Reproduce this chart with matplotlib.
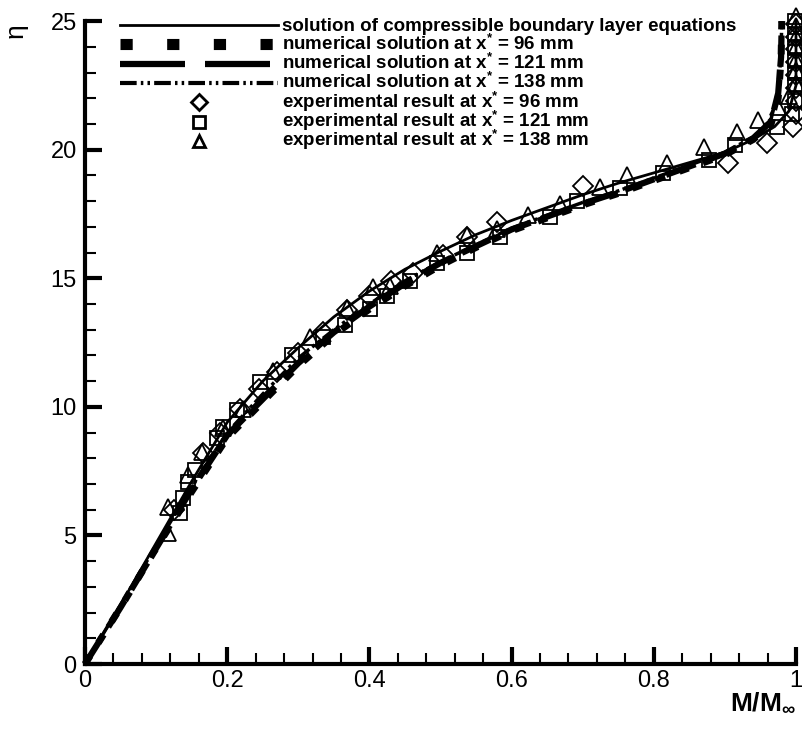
import matplotlib
matplotlib.use('Agg')
import matplotlib.pyplot as plt
from matplotlib.lines import Line2D

plt.rcParams['font.family'] = ['Liberation Sans', 'DejaVu Sans']
plt.rcParams['mathtext.default'] = 'regular'

# theory: compressible boundary layer solution
M_theory = [0, .05, .1, .15, .2, .25, .3, .35, .4, .45, .5, .55, .6, .65, .7, .75, .8, .85, .9, .94, .97, .99, 1.0, 1.0]
eta_theory = [0, 2.3, 4.7, 7.1, 9.4, 11.0, 12.3, 13.5, 14.5, 15.35, 16.05, 16.7, 17.25, 17.75, 18.25, 18.7,
              19.1, 19.5, 19.9, 20.4, 20.9, 21.5, 22.5, 25]

# numerical solutions
M_num = [0, .05, .1, .15, .2, .25, .3, .35, .4, .45, .5, .55, .6, .65, .7, .75, .8, .85, .9, .94, .965, .975, .979, .98]
eta_num96 = [0, 2.2, 4.5, 6.7, 8.8, 10.2, 11.6, 12.8, 13.8, 14.7, 15.5, 16.2, 16.85, 17.35, 17.85, 18.3,
             18.8, 19.3, 19.8, 20.4, 21.0, 22.0, 23.5, 25]
eta_num121 = [0, 2.2, 4.5, 6.8, 8.9, 10.3, 11.7, 12.9, 13.9, 14.8, 15.6, 16.25, 16.9, 17.4, 17.9, 18.35,
              18.85, 19.35, 19.85, 20.45, 21.1, 22.2, 23.6, 25]
eta_num138 = [0, 2.3, 4.6, 6.9, 9.0, 10.5, 11.9, 13.0, 14.0, 14.9, 15.65, 16.3, 16.95, 17.45, 17.95, 18.4,
              18.9, 19.4, 19.9, 20.5, 21.2, 22.3, 23.7, 25]

# experiments
M_exp96 = [0.125, 0.166, 0.19, 0.218, 0.245, 0.27, 0.30, 0.335, 0.368, 0.40, 0.43, 0.461, 0.504, 0.537,
           0.579, 0.70, 0.904, 0.959, 0.996, 1.0, 1.0, 1.0, 1.0, 1.0, 1.0, 1.0, 1.0]
eta_exp96 = [6.0, 8.2, 9.0, 9.9, 10.7, 11.35, 12.1, 12.9, 13.75, 14.3, 14.9, 15.2, 15.9, 16.6,
             17.2, 18.6, 19.5, 20.25, 20.9, 21.4, 21.9, 22.4, 22.9, 23.4, 23.9, 24.4, 24.9]

M_exp121 = [0.134, 0.138, 0.145, 0.155, 0.186, 0.194, 0.214, 0.246, 0.291, 0.335, 0.366, 0.401, 0.425,
            0.457, 0.495, 0.537, 0.584, 0.654, 0.692, 0.752, 0.813, 0.877, 0.914, 0.973, 0.995,
            0.998, 0.998, 0.998, 0.998, 0.998, 0.998, 0.998]
eta_exp121 = [5.87, 6.45, 7.08, 7.54, 8.8, 9.2, 9.88, 10.96, 12.0, 12.7, 13.2, 13.8, 14.3,
              14.9, 15.6, 16.0, 16.6, 17.4, 18.0, 18.5, 19.1, 19.6, 20.2, 20.9, 21.4,
              21.9, 22.5, 23.0, 23.5, 24.0, 24.5, 25.0]

M_exp138 = [0.117, 0.117, 0.145, 0.164, 0.194, 0.222, 0.264, 0.316, 0.368, 0.405, 0.429, 0.495, 0.537,
            0.579, 0.623, 0.668, 0.724, 0.762, 0.819, 0.870, 0.917, 0.947, 0.975, 0.99,
            1.0, 1.0, 1.0, 1.0, 1.0, 1.0, 1.0]
eta_exp138 = [5.1, 6.1, 7.35, 8.25, 9.17, 9.9, 11.4, 12.7, 13.85, 14.66, 14.7, 16.0, 16.7,
              16.9, 17.45, 17.9, 18.55, 19.0, 19.5, 20.1, 20.7, 21.15, 21.65, 22.1,
              22.6, 23.1, 23.5, 24.0, 24.4, 24.8, 25.2]

x_ticks = [0, 0.2, 0.4, 0.6, 0.8, 1.0]
x_ticklabels = ['0', '0.2', '0.4', '0.6', '0.8', '1']
y_ticks = [0, 5, 10, 15, 20, 25]
y_ticklabels = ['0', '5', '10', '15', '20', '25']

labels = ['solution of compressible boundary layer equations',
          'numerical solution at x$^{*}$ = 96 mm',
          'numerical solution at x$^{*}$ = 121 mm',
          'numerical solution at x$^{*}$ = 138 mm',
          'experimental result at x$^{*}$ = 96 mm',
          'experimental result at x$^{*}$ = 121 mm',
          'experimental result at x$^{*}$ = 138 mm']

W, H = 802, 730
fig = plt.figure(figsize=(W / 100, H / 100), dpi=100)
ax = fig.add_axes([0.106, 0.0904, 0.8865, 0.8806])

st96 = dict(color='k', lw=5, dashes=(1.4, 2.2))
st121 = dict(color='k', lw=4.5, dashes=(5, 2))
st138 = dict(color='k', lw=2.5, dashes=(4, 1, 1, 1, 1, 1))

ax.plot(M_theory, eta_theory, color='k', lw=2, clip_on=False)
ax.plot(M_num, eta_num96, clip_on=False, **st96)
ax.plot(M_num, eta_num121, clip_on=False, **st121)
ax.plot(M_num, eta_num138, clip_on=False, **st138)
ax.plot(M_exp96, eta_exp96, ls='none', marker='D', ms=10, mfc='none', mec='k', mew=1.3, clip_on=False)
ax.plot(M_exp121, eta_exp121, ls='none', marker='s', ms=10, mfc='none', mec='k', mew=1.3, clip_on=False)
ax.plot(M_exp138, eta_exp138, ls='none', marker='^', ms=12, mfc='none', mec='k', mew=1.3, clip_on=False)

ax.set_xlim(0, 1)
ax.set_ylim(0, 25)
ax.set_xticks(x_ticks, x_ticklabels)
ax.set_yticks(y_ticks, y_ticklabels)
ax.set_xticks([i * 0.04 for i in range(26)], minor=True)
ax.set_yticks(list(range(26)), minor=True)
for s in ['top', 'right']:
    ax.spines[s].set_visible(False)
for s in ['left', 'bottom']:
    ax.spines[s].set_linewidth(3)
ax.tick_params(which='major', direction='in', length=12, width=3, labelsize=17, pad=6)
ax.tick_params(which='minor', direction='in', length=8, width=1.5)
ax.tick_params(axis='x', which='major', pad=4)

fig.text(0.993, 0.037, 'M/M$_{\\infty}$', fontsize=19, fontweight='bold', ha='right', va='center')
fig.text(0.019, 0.958, 'η', fontsize=19, rotation=90, ha='center', va='center')

# legend drawn by hand (Tecplot style rows)
legend_styles = [dict(color='k', lw=2),
                 dict(color='k', lw=8, dashes=(1.1, 3.1)),
                 dict(color='k', lw=4.5, dashes=(10.4, 3.2)),
                 dict(color='k', lw=3, dashes=(4, 1, 0.6, 1, 0.6, 1)),
                 dict(ls='none', marker='D', ms=8, mfc='none', mec='k', mew=2),
                 dict(ls='none', marker='s', ms=8, mfc='none', mec='k', mew=2),
                 dict(ls='none', marker='^', ms=9, mfc='none', mec='k', mew=2)]
row0, row_step = 25, 19.3
for i, (lab, sty) in enumerate(zip(labels, legend_styles)):
    yc = 1 - (row0 + row_step * i) / H
    if 'marker' in sty:
        fig.add_artist(Line2D([199 / W], [yc], transform=fig.transFigure, **sty))
    else:
        fig.add_artist(Line2D([120 / W, 278 / W], [yc, yc], transform=fig.transFigure, **sty))
    fig.text(282 / W, yc - 5.5 / H, lab, fontsize=13.5, fontweight='bold', ha='left', va='baseline')

fig.savefig('out.png', dpi=100)
